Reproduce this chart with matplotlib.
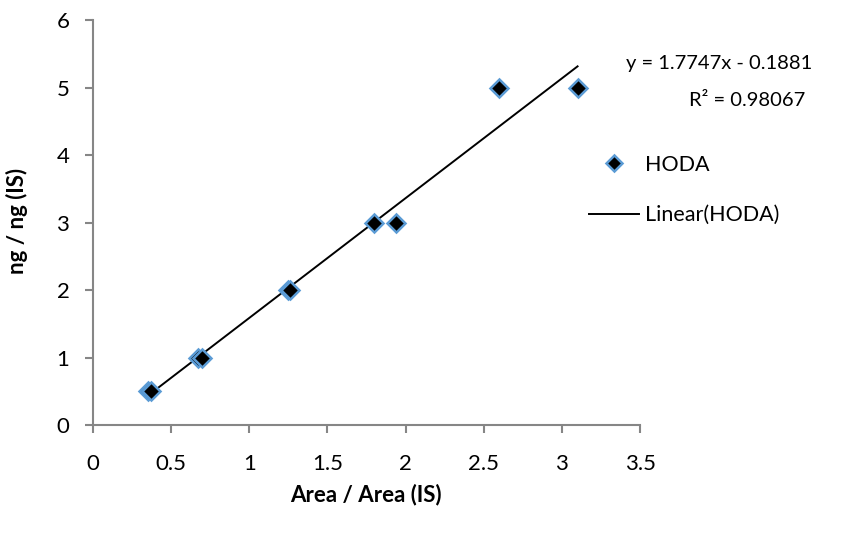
import matplotlib.pyplot as plt
import numpy as np

plt.rcParams['font.family'] = ['Lato', 'DejaVu Sans']

# data
area_ratio = [0.35, 0.37, 0.67, 0.70, 1.25, 1.26, 1.80, 1.94, 2.60, 3.10]
ng_ratio = [0.5, 0.5, 1, 1, 2, 2, 3, 3, 5, 5]

# trendline as printed on the chart
slope = 1.7747
intercept = -0.1881
r_squared = 0.98067

x_ticks = [0, 0.5, 1, 1.5, 2, 2.5, 3, 3.5]
y_ticks = [0, 1, 2, 3, 4, 5, 6]

axis_grey = '#868686'
tick_fs = 16
text_fs = 14.5

fig = plt.figure(figsize=(8.65, 5.35), dpi=100)
ax = fig.add_axes([0.1075, 0.2056, 0.6325, 0.757])

ax.plot(area_ratio, ng_ratio, linestyle='none', marker='D', markersize=9,
        markerfacecolor='black', markeredgecolor='#5b9bd5', markeredgewidth=1.8,
        label='HODA', zorder=3)

xs = np.array([min(area_ratio), max(area_ratio)])
ax.plot(xs, slope * xs + intercept, color='black', linewidth=1.4,
        label='Linear(HODA)', zorder=2)

ax.set_xlim(0, 3.5)
ax.set_ylim(0, 6)
ax.set_xticks(x_ticks)
ax.set_xticklabels([f'{t:g}' for t in x_ticks])
ax.set_yticks(y_ticks)

for side in ['top', 'right']:
    ax.spines[side].set_visible(False)
for side in ['left', 'bottom']:
    ax.spines[side].set_color(axis_grey)
    ax.spines[side].set_linewidth(1.5)

ax.tick_params(direction='out', length=6, width=1.5, color=axis_grey,
               labelsize=tick_fs)
ax.tick_params(axis='y', pad=11)
ax.tick_params(axis='x', pad=15)

# axis titles
fig.text(366 / 865, 1 - 495 / 535, 'Area / Area (IS)', fontsize=tick_fs,
         fontweight='bold', ha='center', va='center')
fig.text(17 / 865, 1 - 221 / 535, 'ng / ng (IS)', fontsize=tick_fs,
         fontweight='bold', ha='center', va='center', rotation=90)

# trendline equation
fig.text(812 / 865, 1 - 63 / 535, 'y = 1.7747x - 0.1881', fontsize=text_fs,
         ha='right', va='center')
fig.text(805 / 865, 1 - 100 / 535, f'R² = {r_squared}', fontsize=text_fs,
         ha='right', va='center')

fig.legend(loc='upper left', bbox_to_anchor=(589 / 865, 1 - 155 / 535),
           frameon=False, fontsize=15.5, handlelength=2.3, handletextpad=0.3,
           labelspacing=1.4, borderpad=0, borderaxespad=0, markerscale=0.85)

fig.savefig('out.png', dpi=100)
